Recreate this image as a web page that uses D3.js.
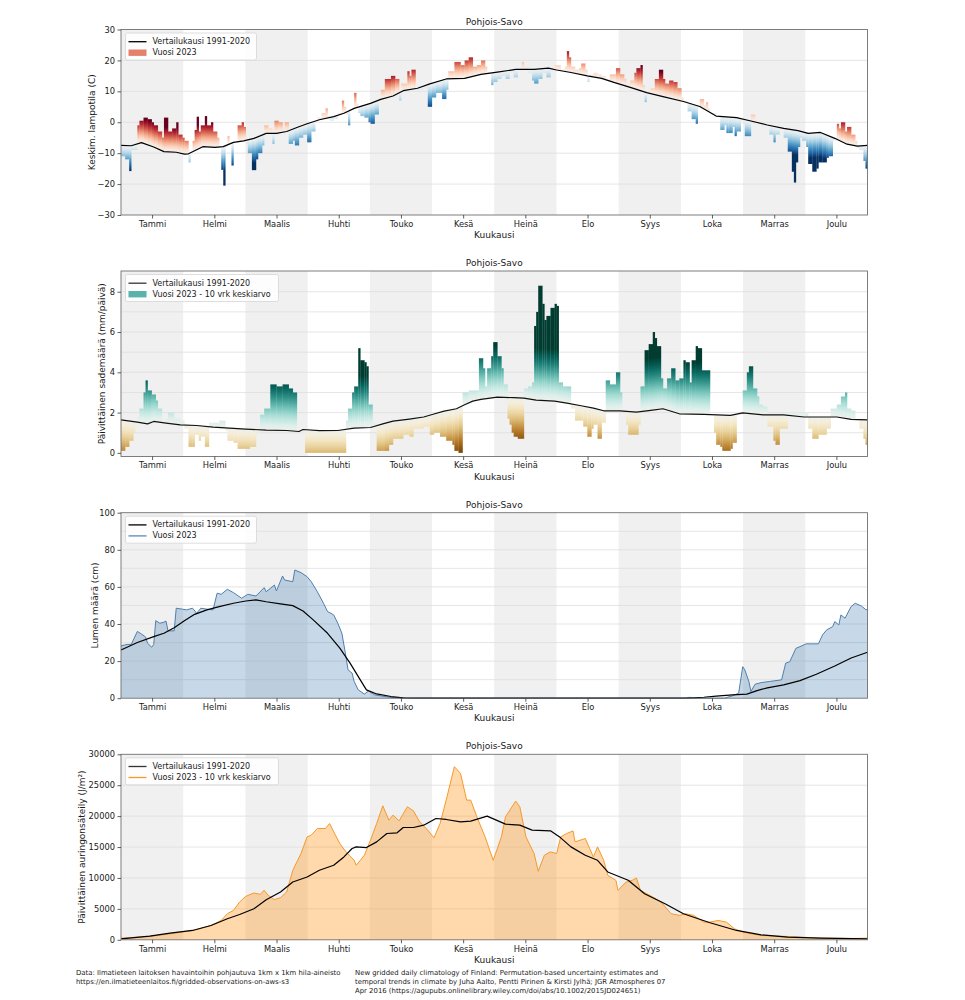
<!DOCTYPE html>
<html>
<head>
<meta charset="utf-8">
<script src="https://cdn.jsdelivr.net/npm/d3@7"></script>
<style>
  body { margin: 0; background: #fff; }
  svg text { font-family: "DejaVu Sans", sans-serif; fill: #1a1a1a; }
</style>
</head>
<body>
<svg id="chart" width="965" height="1000"></svg>
<script>
const months = ['Tammi', 'Helmi', 'Maalis', 'Huhti', 'Touko', 'Kesä', 'Heinä', 'Elo', 'Syys', 'Loka', 'Marras', 'Joulu'];
const regionName = 'Pohjois-Savo';

// lämpötila
const tempClimDay = [0, 5, 10, 16, 21, 27, 31, 33, 37, 40, 46, 50, 55, 60, 65, 71, 76, 81, 86, 91, 97, 104, 109, 114, 122, 127, 133, 138, 145, 151, 159, 168, 176, 184, 193, 202, 209, 213, 220, 228, 235, 241, 249, 257, 265, 275, 283, 291, 301, 308, 316, 324, 331, 336, 342, 349, 355, 360, 365];
const tempClim = [-7.5, -7.6, -6.6, -8, -9.5, -9.7, -10.3, -10.2, -8.9, -7.9, -8.1, -7.9, -6.5, -6, -5.2, -3.6, -3.6, -3, -1.7, -0.5, 0.8, 1.8, 2.9, 4.5, 6.1, 7.4, 8.5, 10.2, 11, 12.4, 14, 14.2, 15.5, 16.2, 17.1, 17.1, 17.5, 16.9, 16.1, 15, 14.2, 12.9, 11.3, 9.6, 8.3, 6.7, 5.1, 2, 1.5, 0.4, -0.9, -2, -2.7, -3.6, -3.3, -5.2, -7.1, -7.7, -7.5];
const tempDay = [0, 2, 4, 5, 8, 9, 11, 13, 15, 16, 18, 20, 21, 23, 25, 27, 28, 30, 31, 33, 34, 35, 36, 37, 38, 39, 41, 42, 44, 45, 47, 48, 49, 50, 51, 52, 53, 54, 55, 57, 59, 60, 61, 62, 64, 66, 67, 69, 70, 72, 74, 75, 77, 79, 80, 82, 84, 85, 87, 89, 91, 93, 95, 96, 98, 100, 101, 102, 104, 106, 108, 109, 110, 111, 112, 114, 115, 116, 117, 119, 121, 122, 124, 126, 127, 129, 132, 134, 136, 137, 140, 141, 142, 144, 146, 148, 150, 152, 154, 157, 159, 160, 163, 166, 168, 170, 172, 174, 176, 178, 179, 181, 182, 184, 186, 188, 190, 192, 194, 196, 197, 199, 201, 202, 204, 206, 208, 210, 212, 215, 217, 218, 219, 220, 222, 224, 225, 227, 228, 229, 231, 233, 235, 237, 239, 242, 244, 246, 247, 249, 251, 252, 254, 255, 256, 257, 258, 259, 261, 263, 265, 266, 268, 270, 272, 274, 275, 277, 279, 281, 282, 283, 285, 286, 287, 288, 291, 293, 295, 296, 297, 299, 300, 301, 303, 304, 305, 307, 308, 310, 312, 313, 315, 317, 319, 320, 322, 324, 326, 328, 329, 330, 331, 332, 333, 335, 336, 338, 340, 341, 343, 345, 346, 348, 350, 351, 352, 354, 355, 357, 359, 360, 361, 363, 364];
const tempVal = [-11, -12, -15.8, -9, -1, 0.5, 1.5, 1, 0, -1, -3, -5, 1.5, -3, -2, 0, -4, -5, -6, -13, -10, -6, -2.5, 1.8, -3, -1, 2, -1, 0, -3, -5, -8, -15.4, -20.5, -8, -4.5, -7, -14, -6.5, -1, 0, -1.5, -7, -10, -15.5, -12, -10, -7.5, -1, -2, -7, 0.5, 0, -2, 0, -7, -6, -7.5, -5, -4, -6.5, -3, 0.5, 1.5, 3, 4.5, 2, 0.5, 1, 3, 7, 5, 2.5, -1, 4, 9.5, 6, 3, 2, 1.5, 0, -0.5, 2.5, 7, 10.5, 14, 15, 14, 7, 12.5, 16.5, 15, 17, 10, 10.5, 11, 5, 8, 9.5, 7.5, 10.5, 16.5, 19.5, 18.5, 20, 21, 18, 18.5, 20, 18, 16, 12, 13, 14, 15, 14, 16, 14.5, 17, 19.5, 18, 16, 13.5, 12.5, 14, 16, 14.5, 17, 18.5, 17, 18, 23, 21, 18, 17, 17.5, 19, 17, 13, 15.5, 16, 15.5, 15, 14, 15.5, 17.5, 15.5, 14, 12.5, 13.5, 16, 17.5, 18.5, 12, 6.5, 9, 10.5, 11, 14, 17, 14, 12.5, 13.5, 13, 11, 8, 7, 3.5, 1, -0.5, 5.5, 7.5, 5.5, 6.5, 4.5, 3, 2, -2.5, -1, -3.5, -3.5, -1.5, -4.5, -3, 0.5, -0.5, -4.5, -4.5, 2.5, 0.5, -0.5, -1.5, -1, -4, -6.5, -4, -2, -5, -9.5, -16, -19.5, -13, -8, -5, -6, -8, -13.5, -16, -15, -13, -13, -11.5, -11, -6, -0.5, -2, 0, -3, -1.5, -4, -6, -8.5, -9, -12.5, -15];

// sademäärä
const rainClimDay = [0, 8, 13, 16, 22, 29, 37, 45, 53, 61, 71, 81, 87, 89, 97, 106, 114, 122, 128, 133, 141, 148, 153, 158, 164, 168, 172, 176, 184, 192, 197, 203, 212, 218, 225, 231, 236, 244, 252, 259, 265, 273, 285, 298, 304, 314, 324, 334, 350, 357, 365];
const rainClim = [1.64, 1.53, 1.44, 1.56, 1.48, 1.39, 1.36, 1.28, 1.23, 1.18, 1.13, 1.11, 1.06, 1.16, 1.1, 1.11, 1.23, 1.26, 1.44, 1.58, 1.68, 1.78, 1.93, 2.07, 2.19, 2.39, 2.57, 2.66, 2.77, 2.74, 2.72, 2.62, 2.57, 2.47, 2.34, 2.22, 2.09, 2.09, 2.02, 2.11, 2.19, 1.94, 1.91, 1.86, 1.99, 1.89, 1.89, 1.78, 1.78, 1.66, 1.64];
const rainDay = [0, 2, 4, 6, 7, 8, 9, 11, 12, 13, 15, 17, 18, 20, 22, 23, 26, 29, 31, 33, 35, 36, 38, 39, 41, 43, 45, 48, 51, 52, 55, 57, 63, 66, 68, 70, 73, 76, 79, 82, 84, 86, 88, 90, 110, 111, 113, 114, 116, 117, 119, 120, 121, 123, 125, 129, 131, 133, 136, 138, 141, 143, 146, 148, 151, 153, 156, 159, 162, 163, 165, 167, 170, 174, 175, 177, 178, 179, 181, 182, 184, 186, 187, 189, 190, 191, 192, 194, 197, 199, 201, 202, 203, 204, 206, 207, 208, 210, 212, 213, 214, 216, 218, 220, 222, 225, 226, 228, 230, 231, 233, 235, 237, 239, 242, 244, 245, 247, 248, 253, 254, 256, 258, 260, 261, 262, 264, 265, 267, 269, 271, 273, 275, 276, 278, 279, 281, 282, 284, 287, 288, 290, 291, 293, 294, 298, 299, 301, 304, 306, 307, 309, 311, 312, 314, 316, 319, 320, 322, 326, 334, 336, 338, 341, 345, 347, 350, 352, 354, 355, 357, 359, 361, 363, 364];
const rainVal = [0.1, 0.3, 0.6, 1.0, 1.3, 1.8, 2.2, 3.0, 3.6, 3.1, 2.9, 2.6, 2.2, 1.6, 1.7, 2.0, 1.7, 1.6, 1.2, 0.3, 0.3, 0.9, 0.6, 0.8, 0.3, 1.5, 1.5, 1.6, 1.1, 0.6, 0.5, 0.2, 0.3, 1.0, 1.9, 2.2, 3.4, 3.3, 3.4, 3.2, 3.0, 1.1, 1.0, 0.0, 1.6, 2.2, 3.0, 3.3, 5.2, 4.6, 4.5, 4.3, 2.4, 1.5, 0.1, 0.1, 0.4, 0.7, 0.7, 0.9, 0.8, 1.2, 1.2, 1.3, 0.9, 1.0, 0.8, 0.6, 0.4, 0.1, 0.0, 3.0, 3.1, 3.1, 4.7, 4.2, 3.3, 4.2, 4.8, 5.5, 4.8, 4.2, 3.4, 1.7, 1.4, 1.0, 0.8, 0.7, 3.2, 3.3, 3.5, 6.3, 7.0, 8.3, 7.4, 6.6, 6.8, 7.2, 7.4, 7.3, 3.5, 3.3, 3.3, 2.2, 1.6, 1.6, 1.3, 0.8, 1.2, 1.4, 0.7, 1.5, 3.6, 3.4, 4.0, 3.0, 2.1, 1.4, 0.9, 1.4, 3.3, 5.1, 5.4, 6.0, 5.7, 5.3, 3.7, 3.2, 3.7, 4.2, 3.6, 3.7, 4.6, 4.5, 3.5, 4.6, 5.3, 5.2, 4.1, 4.1, 1.9, 1.0, 0.4, 0.3, 0.1, 0.2, 0.5, 1.9, 3.1, 4.0, 4.3, 3.2, 2.8, 2.4, 2.3, 1.3, 0.6, 0.4, 1.2, 2.0, 2.0, 1.2, 0.7, 0.9, 1.2, 2.2, 2.4, 2.8, 3.0, 2.2, 2.1, 1.6, 1.2, 0.7, 0.4];

// lumi
const snowClimDay = [0, 8, 16, 21, 26, 31, 36, 42, 48, 55, 61, 66, 71, 78, 84, 89, 94, 101, 107, 112, 117, 120, 125, 132, 138, 145, 278, 285, 291, 299, 306, 311, 316, 324, 332, 340, 349, 357, 365];
const snowClim = [26, 30, 33.2, 35, 38, 41.8, 45.2, 47.6, 49.4, 51.2, 52.4, 53, 52, 50.8, 49.9, 47, 42.2, 35, 27, 18.9, 9.9, 4.5, 2.3, 0.9, 0.2, 0, 0, 0.5, 1.1, 1.8, 2.2, 4.1, 5.6, 7.2, 9.5, 12.9, 17.4, 21.7, 24.8];
const snowDay = [0, 3, 5, 8, 10, 12, 13, 15, 16, 17, 19, 21, 22, 23, 26, 27, 30, 32, 35, 37, 39, 42, 45, 47, 49, 52, 55, 59, 62, 66, 70, 71, 75, 76, 79, 80, 84, 85, 88, 91, 93, 96, 99, 101, 104, 106, 108, 110, 111, 113, 114, 116, 119, 121, 124, 132, 140, 276, 278, 280, 295, 299, 302, 304, 305, 307, 308, 310, 313, 317, 323, 325, 327, 330, 332, 335, 341, 343, 345, 348, 349, 351, 352, 354, 357, 359, 362, 364, 365];
const snowVal = [28.2, 29, 29, 36, 34.6, 33, 29.6, 27.5, 29, 41.8, 40.4, 41, 41.6, 36.3, 36.3, 48.5, 48, 47.6, 48.5, 45.8, 48.5, 48, 47.6, 56.6, 56, 58.7, 56.9, 53.9, 56, 55.1, 59.6, 57.4, 61, 57.8, 65.9, 63.7, 62.8, 69.1, 67.7, 65.5, 62.8, 57.4, 51.2, 46.7, 44.9, 40.4, 35, 22.4, 15.3, 13.5, 9, 4.5, 2.2, 3.9, 1.8, 0.4, 0, 0, 0.5, 0, 0, 1.3, 2.7, 17, 15.3, 9, 3.6, 7.5, 8.4, 9, 9.9, 18.9, 19.7, 26.9, 27.8, 29.3, 29.3, 34.1, 36.8, 38.6, 41.3, 39.5, 44.9, 43.1, 49.4, 51.2, 49.7, 47.9, 47.6];

// auringonsäteily
const sunClimDay = [0, 14, 24, 35, 44, 52, 58, 65, 71, 78, 84, 91, 97, 104, 109, 113, 115, 120, 125, 130, 135, 138, 143, 148, 154, 159, 166, 171, 179, 188, 195, 201, 210, 215, 220, 227, 233, 238, 248, 256, 266, 275, 288, 301, 313, 326, 342, 365];
const sunClim = [160, 600, 1080, 1510, 2320, 3400, 4100, 5030, 6490, 7730, 9350, 10160, 11240, 12050, 13400, 14760, 15030, 14920, 15840, 17190, 17300, 18160, 18160, 18540, 19620, 19460, 19080, 19190, 20000, 18700, 18540, 17730, 17620, 16490, 15030, 13680, 12860, 10970, 9620, 7460, 5840, 4220, 2760, 1510, 810, 430, 270, 160];
const sunDay = [0, 14, 24, 35, 44, 49, 52, 55, 58, 61, 65, 68, 70, 72, 75, 78, 81, 84, 88, 91, 93, 96, 100, 102, 104, 107, 110, 114, 115, 119, 122, 125, 128, 131, 133, 136, 140, 143, 146, 150, 153, 156, 159, 163, 166, 169, 171, 174, 178, 182, 186, 188, 193, 195, 198, 202, 204, 207, 210, 213, 215, 218, 221, 222, 227, 231, 233, 236, 238, 242, 243, 247, 250, 252, 254, 260, 264, 269, 273, 276, 280, 285, 288, 292, 296, 300, 304, 313, 326, 342, 358, 365];
const sunVal = [270, 540, 970, 1510, 2320, 3130, 4220, 4760, 6110, 7030, 7570, 7350, 8000, 7190, 6490, 6810, 7730, 11240, 13950, 16650, 16920, 18000, 18000, 18800, 17460, 15570, 14220, 12860, 12050, 13680, 16110, 18800, 21670, 19350, 20160, 19240, 21510, 20860, 19080, 17730, 16490, 18800, 22590, 28000, 26920, 22590, 22590, 19890, 16650, 12860, 16650, 19890, 22430, 21510, 16650, 13950, 11080, 13680, 14220, 13950, 16650, 17190, 17620, 15840, 16380, 13400, 15030, 12860, 10430, 9620, 8000, 9350, 9620, 10000, 8000, 6920, 6110, 4220, 3950, 4220, 3950, 2860, 2860, 3130, 2860, 1780, 1240, 700, 540, 270, 220, 270];

const footerLeft = ['Data: Ilmatieteen laitoksen havaintoihin pohjautuva 1km x 1km hila-aineisto',
  'https://en.ilmatieteenlaitos.fi/gridded-observations-on-aws-s3'];
const footerRight = ['New gridded daily climatology of Finland: Permutation-based uncertainty estimates and',
  'temporal trends in climate by Juha Aalto, Pentti Pirinen & Kirsti Jylhä; JGR Atmospheres 07',
  'Apr 2016 (https://agupubs.onlinelibrary.wiley.com/doi/abs/10.1002/2015JD024651)'];

const svg = d3.select('#chart');
const defs = svg.append('defs');
const left = 121, right = 867.5, ph = 185.5;
const monthLen = 365 / 12;

const x = d3.scaleLinear().domain([0, 365]).range([left, right]);

// lineaarinen arvo päivälle (pylväiden pohja käyrän kohdalle)
function valueAt(days, vals, d) {
  const i = Math.min(Math.max(d3.bisectRight(days, d), 1), days.length - 1);
  const t = (d - days[i - 1]) / (days[i] - days[i - 1]);
  return vals[i - 1] + (vals[i] - vals[i - 1]) * Math.max(0, Math.min(1, t));
}

function panel(top, domain, ticks, grid, label, labelX) {
  const y = d3.scaleLinear().domain(domain).range([top + ph, top]);
  const g = svg.append('g');

  g.selectAll('rect.band')
    .data(d3.range(0, 12, 2))
    .enter().append('rect')
      .attr('x', (m) => x(m * monthLen))
      .attr('width', x(monthLen) - x(0))
      .attr('y', top)
      .attr('height', ph)
      .attr('fill', '#f0f0f0');

  g.selectAll('line.grid')
    .data(grid)
    .enter().append('line')
      .attr('x1', left).attr('x2', right)
      .attr('y1', (d) => y(d)).attr('y2', (d) => y(d))
      .attr('stroke', '#dedede')
      .attr('stroke-width', 0.8);

  const data = svg.append('g');

  svg.append('rect')
    .attr('x', left).attr('y', top)
    .attr('width', right - left).attr('height', ph)
    .attr('fill', 'none')
    .attr('stroke', '#707070')
    .attr('stroke-width', 0.9);

  const xa = svg.append('g')
    .attr('transform', `translate(0,${top + ph})`)
    .call(d3.axisBottom(x)
      .tickValues(months.map((m, i) => (i + 0.5) * monthLen))
      .tickFormat((d, i) => months[i])
      .tickSize(3.5).tickPadding(2.5));
  const ya = svg.append('g')
    .attr('transform', `translate(${left},0)`)
    .call(d3.axisLeft(y).tickValues(ticks).tickFormat(d3.format('d')).tickSize(3.5).tickPadding(2.5));
  [xa, ya].forEach((a) => {
    a.select('.domain').remove();
    a.selectAll('line').attr('stroke', '#333').attr('stroke-width', 0.8);
    a.selectAll('text').attr('font-size', 8.3).attr('font-family', 'DejaVu Sans').attr('fill', '#1a1a1a');
  });

  svg.append('text')
    .attr('x', (left + right) / 2).attr('y', top - 5)
    .attr('text-anchor', 'middle')
    .attr('font-size', 9)
    .text(regionName);
  svg.append('text')
    .attr('x', (left + right) / 2).attr('y', top + ph + 23)
    .attr('text-anchor', 'middle')
    .attr('font-size', 9)
    .text('Kuukausi');
  svg.append('text')
    .attr('transform', `translate(${labelX},${top + ph / 2}) rotate(-90)`)
    .attr('text-anchor', 'middle')
    .attr('dominant-baseline', 'central')
    .attr('font-size', 9)
    .text(label);

  return { y, data, top };
}

function legend(p, width, items) {
  const lg = svg.append('g').attr('transform', `translate(125.5,${p.top + 3.5})`);
  lg.append('rect')
    .attr('width', width).attr('height', 27)
    .attr('rx', 2)
    .attr('fill', 'white').attr('fill-opacity', 0.85)
    .attr('stroke', '#d5d5d5').attr('stroke-width', 0.8);
  items.forEach((it, i) => {
    const cy = 8.7 + i * 11;
    if (it.type === 'rect') {
      lg.append('rect').attr('x', 3).attr('y', cy - 3.2).attr('width', 18).attr('height', 6.4).attr('fill', it.color);
    } else {
      lg.append('line').attr('x1', 3).attr('x2', 21).attr('y1', cy).attr('y2', cy)
        .attr('stroke', it.color).attr('stroke-width', 1.3);
    }
    lg.append('text').attr('x', 27).attr('y', cy).attr('dominant-baseline', 'central')
      .attr('font-size', 8).text(it.label);
  });
}

// pylväät liukuvärillä vertailukäyrästä poispäin
function gradientBars(p, id, days, vals, climDays, clim, span, cmap) {
  const bars = days.map((d, i) => {
    const d1 = i < days.length - 1 ? days[i + 1] : 365;
    const base = valueAt(climDays, clim, (d + d1) / 2);
    return { d0: d, d1: d1, v: vals[i], base: base, sign: vals[i] >= base ? 1 : -1 };
  });

  const grads = defs.selectAll(`linearGradient.${id}`)
    .data(bars)
    .enter().append('linearGradient')
      .attr('class', id)
      .attr('id', (d, i) => `${id}${i}`)
      .attr('gradientUnits', 'userSpaceOnUse')
      .attr('x1', 0).attr('x2', 0)
      .attr('y1', (d) => p.y(d.base))
      .attr('y2', (d) => p.y(d.base + d.sign * span));
  grads.selectAll('stop')
    .data((d) => d3.range(0, 1.0001, 0.1).map((t) => ({ t: t, sign: d.sign })))
    .enter().append('stop')
      .attr('offset', (s) => s.t)
      .attr('stop-color', (s) => cmap(0.5 + s.sign * 0.5 * s.t));

  p.data.selectAll('rect')
    .data(bars)
    .enter().append('rect')
      .attr('x', (d) => x(d.d0))
      .attr('width', (d) => x(d.d1) - x(d.d0) + 0.25)
      .attr('y', (d) => Math.min(p.y(d.v), p.y(d.base)))
      .attr('height', (d) => Math.abs(p.y(d.v) - p.y(d.base)))
      .attr('fill', (d, i) => `url(#${id}${i})`);
}

function line(p, days, vals, color, width) {
  p.data.append('path')
    .attr('d', d3.line().x((d) => x(d)).y((d, i) => p.y(vals[i]))(days))
    .attr('fill', 'none')
    .attr('stroke', color)
    .attr('stroke-width', width)
    .attr('stroke-linejoin', 'round');
}

function area(p, days, vals, color, opacity) {
  p.data.append('path')
    .attr('d', d3.area().x((d) => x(d)).y0(p.y(0)).y1((d, i) => p.y(vals[i]))(days))
    .attr('fill', color)
    .attr('fill-opacity', opacity);
}

// 1. lämpötila
const p1 = panel(29.5, [-30, 30], d3.range(-30, 31, 10), d3.range(-20, 30, 10), 'Keskim. lampotila (C)', 92);
gradientBars(p1, 'tg', tempDay, tempVal, tempClimDay, tempClim, 8, (t) => d3.interpolateRdBu(1 - t));
line(p1, tempClimDay, tempClim, '#000', 1.2);
legend(p1, 131, [
  { type: 'line', color: '#000', label: 'Vertailukausi 1991-2020' },
  { type: 'rect', color: '#e5806a', label: 'Vuosi 2023' }
]);

// 2. sademäärä
const p2 = panel(271, [-0.18, 9.03], [0, 2, 4, 6, 8], d3.range(1, 9), 'Päivittäinen sademäärä (mm/päivä)', 102);
gradientBars(p2, 'rg', rainDay, rainVal, rainClimDay, rainClim, 2.6, (t) => d3.interpolateBrBG(t));
line(p2, rainClimDay, rainClim, '#111', 1.2);
legend(p2, 153, [
  { type: 'line', color: '#333', label: 'Vertailukausi 1991-2020' },
  { type: 'rect', color: '#5ab2aa', label: 'Vuosi 2023 - 10 vrk keskiarvo' }
]);

// 3. lumi
const p3 = panel(512.7, [0, 100], d3.range(0, 101, 20), d3.range(10, 100, 10), 'Lumen määrä (cm)', 95);
area(p3, snowDay, snowVal, 'steelblue', 0.3);
line(p3, snowDay, snowVal, '#4f7fae', 1);
line(p3, snowClimDay, snowClim, '#000', 1.2);
legend(p3, 131, [
  { type: 'line', color: '#000', label: 'Vertailukausi 1991-2020' },
  { type: 'line', color: '#5b87b5', label: 'Vuosi 2023' }
]);

// 4. auringonsäteily
const p4 = panel(754.3, [0, 30000], d3.range(0, 30001, 5000), d3.range(5000, 30000, 5000), 'Päivittäinen auringonsäteily (J/m²)', 82);
area(p4, sunDay, sunVal, 'darkorange', 0.33);
line(p4, sunDay, sunVal, '#f7992a', 1);
line(p4, sunClimDay, sunClim, '#000', 1.2);
legend(p4, 153, [
  { type: 'line', color: '#333', label: 'Vertailukausi 1991-2020' },
  { type: 'line', color: '#f7992a', label: 'Vuosi 2023 - 10 vrk keskiarvo' }
]);

// lähteet
const foot = svg.append('g');
foot.selectAll('text.fl')
  .data(footerLeft)
  .enter().append('text')
    .attr('x', 76).attr('y', (d, i) => 975 + i * 9.2)
    .attr('font-size', 6.9).attr('font-family', 'Noto Sans')
    .text((d) => d);
foot.selectAll('text.fr')
  .data(footerRight)
  .enter().append('text')
    .attr('class', 'fr')
    .attr('x', 355).attr('y', (d, i) => 975 + i * 9.2)
    .attr('font-size', 6.9).attr('font-family', 'Noto Sans')
    .text((d) => d);
</script>
</body>
</html>
